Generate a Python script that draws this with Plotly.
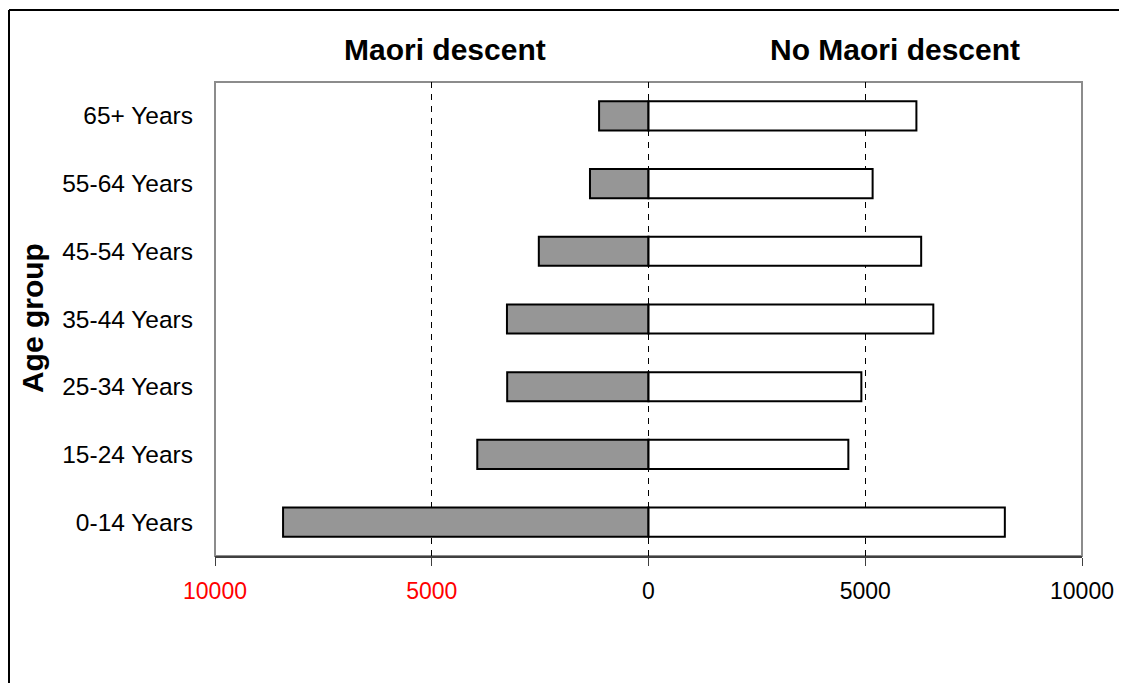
import plotly.graph_objects as go

age_groups = ["0-14 Years", "15-24 Years", "25-34 Years", "35-44 Years",
              "45-54 Years", "55-64 Years", "65+ Years"]
maori = [8430, 3950, 3260, 3265, 2530, 1350, 1140]
non_maori = [8220, 4610, 4910, 6570, 6290, 5170, 6180]

x_tickvals = [-10000, -5000, 0, 5000, 10000]
x_ticktext = ['<span style="color:#ff0000">10000</span>',
              '<span style="color:#ff0000">5000</span>',
              '0', '5000', '10000']

FONT = "Liberation Sans, Arial, sans-serif"

fig = go.Figure()
fig.add_trace(go.Bar(
    y=age_groups, x=[-v for v in maori], orientation="h",
    name="Maori descent",
    marker=dict(color="#969696", line=dict(color="#000000", width=2)),
))
fig.add_trace(go.Bar(
    y=age_groups, x=non_maori, orientation="h",
    name="No Maori descent",
    marker=dict(color="#ffffff", line=dict(color="#000000", width=2)),
))

fig.update_layout(
    width=1127, height=683,
    margin=dict(l=207, r=53, t=74, b=135),
    paper_bgcolor="white", plot_bgcolor="white",
    barmode="relative", bargap=0.57,
    showlegend=False,
    font=dict(family=FONT, size=23, color="#000000"),
    xaxis=dict(
        range=[-10000, 10000], tickvals=x_tickvals, ticktext=x_ticktext,
        showgrid=True, gridcolor="#000000", gridwidth=1, griddash="6px,6px",
        zeroline=False, showline=True, linecolor="#404040", linewidth=2,
        ticks="outside", ticklen=8, tickcolor="#404040", tickwidth=1,
        ticklabelstandoff=5, tickfont=dict(size=23),
    ),
    yaxis=dict(
        type="category", showgrid=False, zeroline=False,
        showline=False, ticks="", ticklabelstandoff=21,
        tickfont=dict(size=24.5),
    ),
    shapes=[
        dict(type="rect", xref="paper", yref="paper", x0=0, x1=1, y0=0, y1=1,
             line=dict(color="#8c8c8c", width=2), layer="below"),
        dict(type="line", xref="paper", yref="paper", x0=-0.2376, x1=1.08,
             y0=1.1519, y1=1.1519, line=dict(color="#000000", width=2)),
        dict(type="line", xref="paper", yref="paper", x0=-0.2376, x1=-0.2376,
             y0=1.1519, y1=-0.3, line=dict(color="#000000", width=2)),
    ],
    annotations=[
        dict(text="<b>Maori descent</b>", xref="paper", yref="paper",
             x=0.2653, y=1.0696, xanchor="center", yanchor="middle",
             showarrow=False, font=dict(size=30)),
        dict(text="<b>No Maori descent</b>", xref="paper", yref="paper",
             x=0.784, y=1.0696, xanchor="center", yanchor="middle",
             showarrow=False, font=dict(size=30)),
        dict(text="<b>Age group</b>", xref="paper", yref="paper",
             x=-0.211, y=0.502, xanchor="center", yanchor="middle",
             showarrow=False, textangle=-90, font=dict(size=30)),
    ],
)

fig.write_html("out.html")
